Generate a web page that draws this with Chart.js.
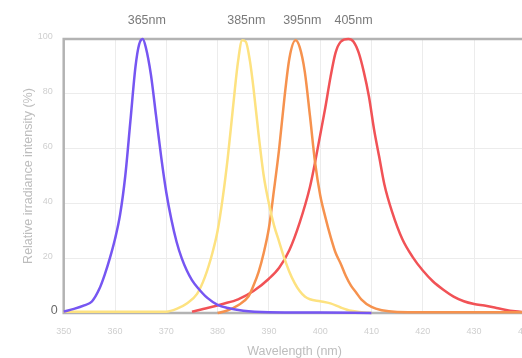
<!DOCTYPE html>
<html>
<head>
<meta charset="utf-8">
<script src="https://cdn.jsdelivr.net/npm/chart.js@4/dist/chart.umd.min.js"></script>
<style>
  html, body { margin: 0; padding: 0; background: #fff; overflow: hidden; }
  #wrap { width: 540px; height: 358px; position: relative; }
  canvas { display: block; }
</style>
</head>
<body>
<div id="wrap"><canvas id="c" width="540" height="358"></canvas></div>
<script>
// ---- data ----
const xTicksRange = [350, 440];
const yTicksRange = [0, 100];
const peakLabels = ['365nm', '385nm', '395nm', '405nm'];
const peakLabelAt = [366.2, 385.6, 396.5, 406.5];

const purpleX = [350, 352, 354, 355.5, 357, 358, 359, 360, 361, 362, 363, 364, 364.7, 365.4, 366, 367, 368, 369, 370, 371, 372, 373, 374, 375, 376, 378, 380, 382, 385, 390, 400, 410];
const purpleY = [0.5, 1.5, 2.8, 4.2, 9, 14, 20, 27, 36, 50, 70, 90, 98, 100, 97, 87, 72, 57, 44, 34, 26, 20, 15.5, 12, 9.5, 5.5, 3, 1.8, 0.8, 0.3, 0.2, 0];

const yellowX = [350, 360, 370, 372, 374, 376, 377.5, 379, 380, 381, 382, 383, 384, 384.8, 385.5, 386.3, 387, 388, 389, 390, 391, 392, 393, 394, 395, 396, 397, 398, 400, 402, 404, 406, 408, 410];
const yellowY = [0.5, 0.5, 0.5, 1.5, 3.5, 7, 13, 22, 30, 42, 57, 75, 92, 99.5, 99, 92, 82, 65, 50, 40, 32, 26, 20, 15, 11, 8, 6, 5, 4.3, 3.5, 2, 0.8, 0.3, 0];

const orangeX = [380, 382, 384, 386, 387, 388, 389, 390, 391, 392, 393, 394, 395.2, 396, 397, 398, 399, 400, 401, 402, 403, 404, 405, 406, 407, 408, 410, 412, 415, 420, 440];
const orangeY = [0, 1, 2.8, 6, 10, 15, 22, 31, 45, 60, 78, 93, 99.5, 97, 88, 72, 55, 43, 35, 28, 22, 18, 13.5, 10, 7.5, 5, 2.2, 1, 0.4, 0.3, 0.3];

const redX = [375, 378, 381, 384, 387, 390, 392, 394, 396, 398, 399, 400, 401, 402, 403, 404, 405.5, 406.5, 407.5, 408.5, 409.5, 410.5, 411.5, 412.5, 414, 416, 418, 420, 422, 424, 426, 428, 430, 432, 434, 436, 438, 440];
const redY = [0.5, 1.8, 3.3, 5, 8, 12.5, 16.5, 23, 33, 46, 55, 65, 75, 86, 95, 99, 100, 99, 95, 88, 79, 67, 57, 47, 37, 27, 20.5, 15.5, 11.5, 8.5, 6, 4.3, 3.3, 2.7, 2, 1.2, 0.6, 0.2];

const seriesNames = ['365nm', '385nm', '395nm', '405nm'];
const seriesColors = ['rgba(118,86,242,1)', 'rgba(253,226,128,1)', 'rgba(246,146,78,1)', 'rgba(241,82,86,1)'];

const FONT = '"Liberation Sans", Arial, Helvetica, sans-serif';

function pts(xs, ys) { return xs.map((x, i) => ({ x: x, y: ys[i] })); }

const frame = {
  id: 'frame',
  beforeDatasetsDraw(chart) {
    const { ctx, chartArea: a } = chart;
    ctx.save();
    ctx.strokeStyle = '#b3b3b3';
    ctx.lineWidth = 2.5;
    ctx.strokeRect(a.left, a.top, a.right - a.left, a.bottom - a.top);
    ctx.restore();
  },
  afterDraw(chart) {
    const { ctx } = chart;
    const xs = chart.scales.x;
    ctx.save();
    ctx.font = '12.5px ' + FONT;
    ctx.fillStyle = '#7a7a7a';
    ctx.textAlign = 'center';
    ctx.textBaseline = 'middle';
    peakLabels.forEach((t, i) => ctx.fillText(t, xs.getPixelForValue(peakLabelAt[i]), 21));
    ctx.restore();
  }
};

new Chart(document.getElementById('c'), {
  type: 'line',
  data: {
    datasets: [
      { label: seriesNames[0], data: pts(purpleX, purpleY), borderColor: seriesColors[0] },
      { label: seriesNames[1], data: pts(yellowX, yellowY), borderColor: seriesColors[1] },
      { label: seriesNames[2], data: pts(orangeX, orangeY), borderColor: seriesColors[2] },
      { label: seriesNames[3], data: pts(redX, redY), borderColor: seriesColors[3] }
    ]
  },
  options: {
    responsive: false,
    maintainAspectRatio: false,
    animation: false,
    devicePixelRatio: 1,
    layout: { padding: { top: 39, right: 14.6, left: 0, bottom: 0 } },
    datasets: { line: { borderWidth: 2.5, pointRadius: 0, cubicInterpolationMode: 'monotone', fill: false, clip: false } },
    plugins: { legend: { display: false }, tooltip: { enabled: false } },
    scales: {
      x: {
        type: 'linear',
        min: xTicksRange[0], max: xTicksRange[1],
        border: { display: false },
        grid: { color: '#ececec', lineWidth: 1, drawTicks: false },
        ticks: { stepSize: 10, padding: 13, color: '#cfcfcf', font: { family: FONT, size: 9 }, maxRotation: 0 },
        title: { display: true, text: 'Wavelength (nm)', color: '#bdbdbd', font: { family: FONT, size: 12.5 }, padding: { top: 0, bottom: -1.5 } },
        afterFit(s) { s.height = 45; s.paddingLeft = 0; s.paddingRight = 0; }
      },
      y: {
        min: yTicksRange[0], max: yTicksRange[1],
        border: { display: false },
        grid: { color: '#ececec', lineWidth: 1, drawTicks: false },
        ticks: {
          stepSize: 20, padding: 6,
          callback: v => v === 0 ? '0' : v + '  ',
          color: c => c.tick && c.tick.value === 0 ? '#6a6a6a' : '#cfcfcf',
          font: c => c.tick && c.tick.value === 0 ? { family: FONT, size: 12.5 } : { family: FONT, size: 9 },
          labelOffset: -2
        },
        title: { display: true, text: 'Relative irradiance intensity (%)', color: '#bdbdbd', font: { family: FONT, size: 12.5 }, padding: { top: 21.5, bottom: 0 } },
        afterFit(s) { s.width = 63.7; s.paddingTop = 0; s.paddingBottom = 0; }
      }
    }
  },
  plugins: [frame]
});
</script>
</body>
</html>
